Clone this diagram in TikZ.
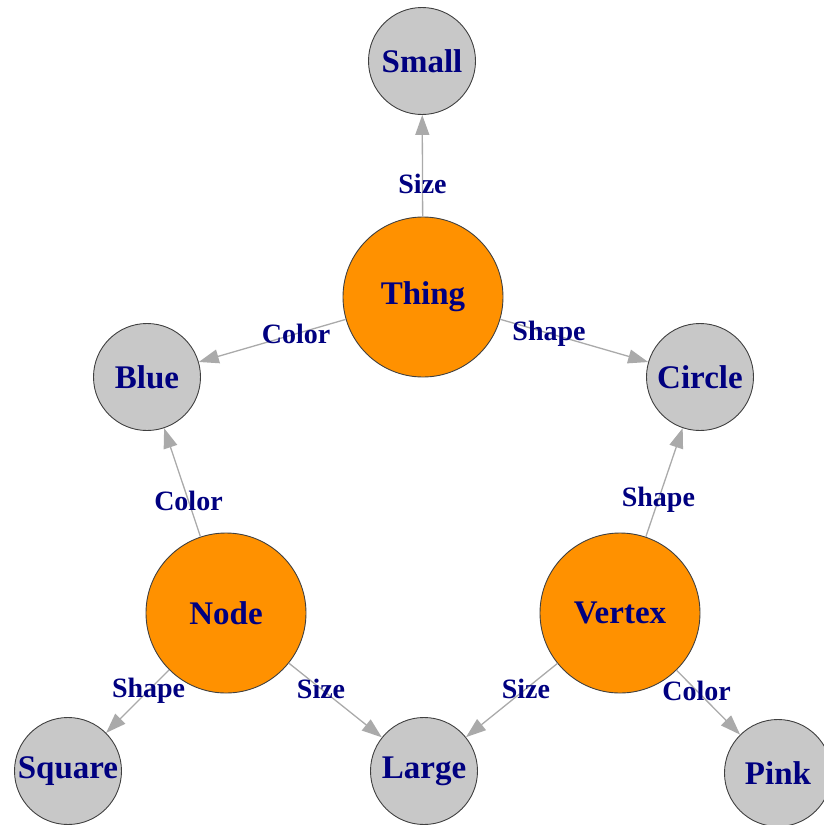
\documentclass[tikz,border=0pt]{standalone}
\usepackage{fontspec}
\setmainfont{Liberation Serif}
\usetikzlibrary{arrows.meta}
\definecolor{navytxt}{RGB}{0,0,128}
\definecolor{orangefill}{RGB}{255,145,0}
\definecolor{grayfill}{RGB}{200,200,200}
\definecolor{edgegray}{RGB}{170,170,170}
\begin{document}
\begin{tikzpicture}[x=1pt,y=-1pt,
  vbase/.style={circle,draw=black!75,line width=0.9pt,inner sep=0pt,
    font=\fontsize{33}{36}\selectfont\bfseries,text=navytxt},
  big/.style={vbase,fill=orangefill,minimum size=160pt},
  small/.style={vbase,fill=grayfill,minimum size=107pt},
  edge/.style={draw=edgegray,line width=1.3pt,-{Triangle[length=20pt,width=14pt]}},
  lbl/.style={font=\fontsize{28}{30}\selectfont\bfseries,text=navytxt,inner sep=0pt}]
\useasboundingbox (0,0) rectangle (823,825);
\node[small] (small) at (422,61) {Small};
\node[big] (thing) at (423,297) {Thing};
\node[small] (blue) at (147,377) {Blue};
\node[small] (circle) at (700,377) {Circle};
\node[big] (node) at (226,613) {Node};
\node[big] (vertex) at (620,613) {Vertex};
\node[small] (square) at (68,771) {Square};
\node[small] (large) at (424,771) {Large};
\node[small] (pink) at (778,773) {Pink};
\draw[edge] (thing) -- (small);
\draw[edge] (thing) -- (blue);
\draw[edge] (thing) -- (circle);
\draw[edge] (node) -- (blue);
\draw[edge] (vertex) -- (circle);
\draw[edge] (node) -- (square);
\draw[edge] (node) -- (large);
\draw[edge] (vertex) -- (large);
\draw[edge] (vertex) -- (pink);
\path (thing.center) -- (small.center) node[lbl,pos=0.48] (l1) {Size};
\path (thing.center) -- (blue.center) node[lbl,pos=0.46] (l2) {Color};
\path (thing.center) -- (circle.center) node[lbl,pos=0.455] (l3) {Shape};
\path (node.center) -- (blue.center) node[lbl,pos=0.475] (l4) {Color};
\path (vertex.center) -- (circle.center) node[lbl,pos=0.48] (l5) {Shape};
\path (node.center) -- (square.center) node[lbl,pos=0.49] (l6) {Shape};
\path (node.center) -- (large.center) node[lbl,pos=0.48] (l7) {Size};
\path (vertex.center) -- (large.center) node[lbl,pos=0.48] (l8) {Size};
\path (vertex.center) -- (pink.center) node[lbl,pos=0.485] (l9) {Color};
\end{tikzpicture}
\end{document}
